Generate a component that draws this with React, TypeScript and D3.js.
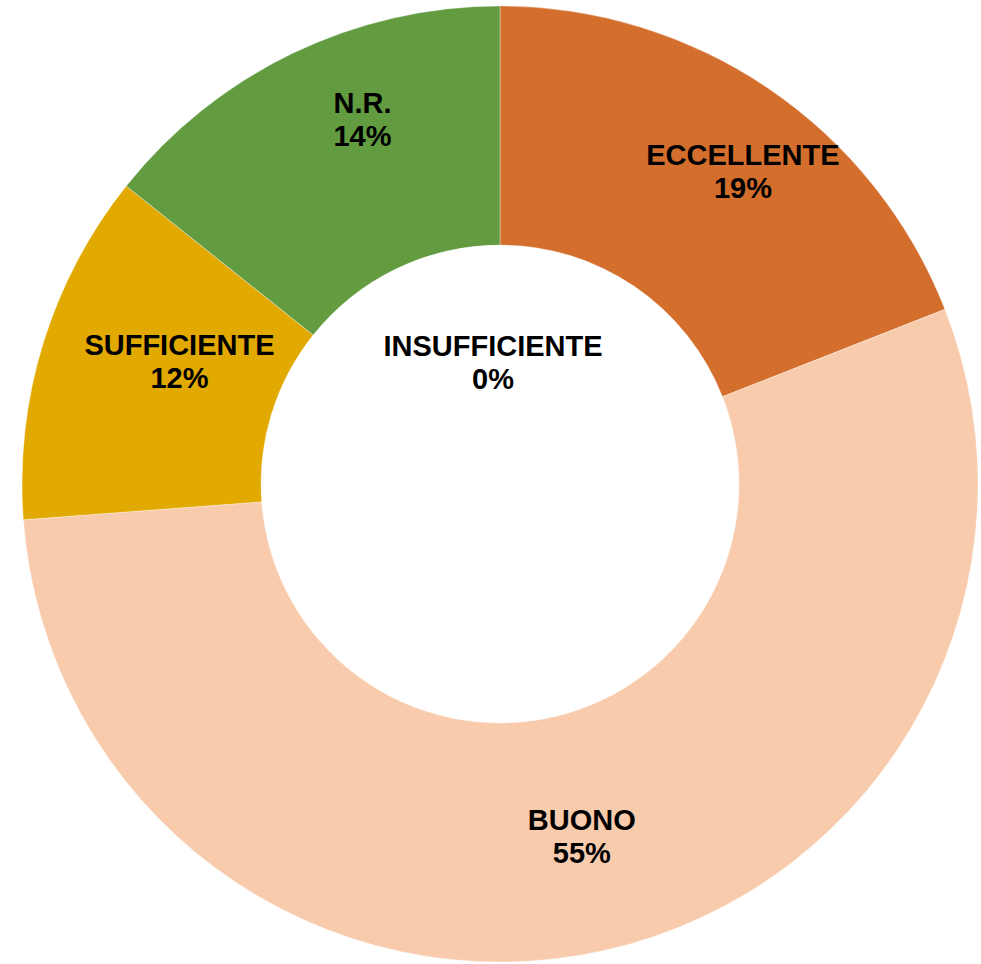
import React from 'react'
import * as d3 from 'd3'

const categories = ['ECCELLENTE', 'BUONO', 'INSUFFICIENTE', 'SUFFICIENTE', 'N.R.']
// counts of answers, the labels show the share of the total
const values = [8, 23, 0, 5, 6]
const colors = ['#D36E2C', '#F8CBAD', '#FFFFFF', '#E2A900', '#629B40']

const width = 981
const height = 964
const cx = 500
const cy = 484
const outerRadius = 478
const innerRadius = 239

// manual nudges of the labels, like in the original sheet
const labelShift = [
  [41, -17],
  [2, 2],
  [0, 0],
  [22, -18],
  [18, -42],
]

type Slice = { name: string; value: number; color: string }

const slices: Slice[] = categories.map((name, i) => ({
  name,
  value: values[i],
  color: colors[i],
}))

const pie = d3
  .pie<Slice>()
  .value(d => d.value)
  .sort(null)

const arc = d3
  .arc<d3.PieArcDatum<Slice>>()
  .innerRadius(innerRadius)
  .outerRadius(outerRadius)

const total = d3.sum(values)

export default function App() {
  const arcs = pie(slices)
  return (
    <svg
      width={width}
      height={height}
      style={{ position: 'absolute', left: 0, top: 0 }}
      fontFamily="'Liberation Sans', Arial, sans-serif"
    >
      <rect width={width} height={height} fill="#ffffff" />
      <g transform={`translate(${cx}, ${cy})`}>
        {arcs.map(a => (
          <path
            key={a.data.name}
            d={arc(a) || ''}
            fill={a.data.color}
            stroke="#ffffff"
            strokeWidth={a.data.value > 0 ? 0.6 : 0}
            strokeOpacity={0.6}
          />
        ))}
        {arcs.map((a, i) => {
          // an empty slice gets its label in the hole
          let [x, y] = a.data.value > 0 ? arc.centroid(a) : [-7, -122]
          x += labelShift[i][0]
          y += labelShift[i][1]
          const pct = d3.format('.0%')(a.data.value / total)
          return (
            <text
              key={a.data.name}
              x={x}
              y={y}
              textAnchor="middle"
              fontSize={29}
              fontWeight="bold"
              fill="#000000"
            >
              <tspan x={x} dy="-0.2em">
                {a.data.name}
              </tspan>
              <tspan x={x} dy="1.14em">
                {pct}
              </tspan>
            </text>
          )
        })}
      </g>
    </svg>
  )
}
